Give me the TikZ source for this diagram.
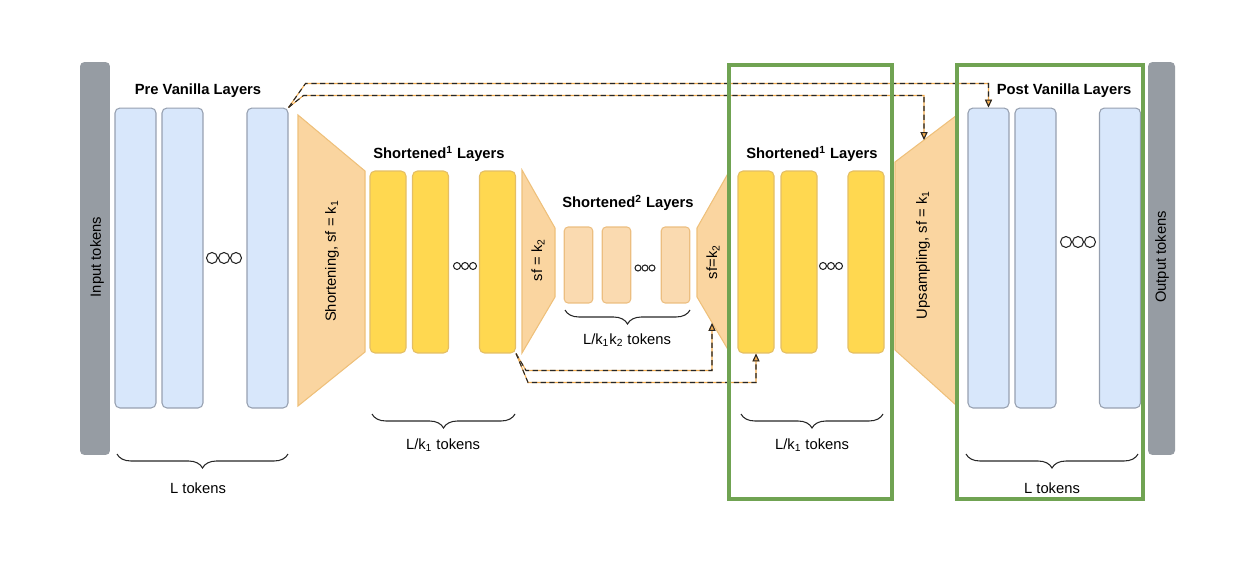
\documentclass[tikz,border=0pt]{standalone}
\usepackage{fontspec}
\setmainfont{Liberation Sans}
\usetikzlibrary{arrows.meta,decorations.pathreplacing}

\definecolor{tokgray}{RGB}{150,156,163}
\definecolor{vanfill}{RGB}{216,231,251}
\definecolor{vandraw}{RGB}{150,160,176}
\definecolor{onefill}{RGB}{255,216,80}
\definecolor{onedraw}{RGB}{228,190,100}
\definecolor{twofill}{RGB}{250,218,176}
\definecolor{twodraw}{RGB}{236,190,128}
\definecolor{sqfill}{RGB}{250,213,160}
\definecolor{sqdraw}{RGB}{238,192,122}
\definecolor{boxgreen}{RGB}{112,163,82}
\definecolor{dashorange}{RGB}{242,172,80}

\tikzset{
    tokenbar/.style={fill=tokgray, rounded corners=2.5pt, minimum height=7.86cm, inner sep=0pt},
    vanilla/.style={draw=vandraw, fill=vanfill, line width=0.6pt, rounded corners=2.8pt,
        minimum width=0.82cm, minimum height=6cm, inner sep=0pt},
    shortone/.style={draw=onedraw, fill=onefill, line width=0.6pt, rounded corners=2.8pt,
        minimum width=0.72cm, minimum height=3.64cm, inner sep=0pt},
    shorttwo/.style={draw=twodraw, fill=twofill, line width=0.6pt, rounded corners=2.2pt,
        minimum width=0.57cm, minimum height=1.52cm, inner sep=0pt},
    squeeze/.style={draw=sqdraw, fill=sqfill, line width=0.6pt},
    layertitle/.style={font=\fontsize{8.4}{10}\selectfont\bfseries},
    tokbrace/.style={decorate, decoration={brace, mirror, amplitude=0.28cm}, draw=black!85, line width=0.6pt},
    skipline/.style={draw=black!85, line width=0.6pt, dash pattern=on 3pt off 2pt,
        preaction={draw=dashorange, line width=0.6pt, solid},
        -{Triangle[length=4.5pt, width=4pt, fill=dashorange]}},
    focus/.style={draw=boxgreen, line width=2.8pt},
    dots/.style={draw=black!85, line width=0.6pt}
}

\begin{document}
\begin{tikzpicture}[x=0.02cm, y=-0.02cm, font=\fontsize{8.4}{10}\selectfont]
    \useasboundingbox (0,0) rectangle (1260,564);

    % Token bars
    \node[tokenbar, minimum width=0.6cm] (inbar) at (95,258.5) {};
    \node[tokenbar, minimum width=0.54cm] (outbar) at (1161.5,258.5) {};
    \node[rotate=90] (inlbl) at (97,257) {Input tokens};
    \node[rotate=90] (outlbl) at (1162,257) {Output tokens};

    % Pre vanilla layers
    \node[layertitle] (pretitle) at (198,91) {Pre Vanilla Layers};
    \foreach \n/\x in {1/135.5, 2/182.5, 3/267.5} {
        \node[vanilla] (pre\n) at (\x,258) {};
    }
    \foreach \d in {-12,0,12} {
        \draw[dots] (224+\d,258) circle (0.11cm);
    }

    % Shortening
    \draw[squeeze] (298,115) -- (365,171) -- (365,352) -- (298,406) -- cycle;
    \node[rotate=90] (shortlbl) at (332,261) {Shortening, sf = k\textsubscript{1}};

    % Shortened^1 layers (left)
    \node[layertitle] (onetitle) at (439,154) {Shortened\textsuperscript{1} Layers};
    \foreach \n/\x in {1/388, 2/430.5, 3/497.5} {
        \node[shortone] (sone\n) at (\x,262) {};
    }
    \foreach \d in {-8,0,8} {
        \draw[dots] (465+\d,266) circle (0.07cm);
    }

    % sf = k2 down
    \draw[squeeze] (522,170) -- (555,228) -- (555,297) -- (522,353) -- cycle;
    \node[rotate=90] (downlbl) at (538,260) {sf = k\textsubscript{2}};

    % Shortened^2 layers
    \node[layertitle] (twotitle) at (628,203) {Shortened\textsuperscript{2} Layers};
    \foreach \n/\x in {1/578.5, 2/616.5, 3/675.5} {
        \node[shorttwo] (stwo\n) at (\x,265) {};
    }
    \foreach \d in {-7,0,7} {
        \draw[dots] (645+\d,268) circle (0.06cm);
    }

    % sf = k2 up
    \draw[squeeze] (697,228) -- (730,170) -- (730,353) -- (697,297) -- cycle;
    \node[rotate=90] (uplbl) at (713,262) {sf=k\textsubscript{2}};
    \coordinate (dnin) at (712,323);

    % Shortened^1 layers (right)
    \node[layertitle] (onertitle) at (812,154) {Shortened\textsuperscript{1} Layers};
    \foreach \n/\x in {1/756, 2/799, 3/866} {
        \node[shortone] (sonr\n) at (\x,262) {};
    }
    \foreach \d in {-8,0,8} {
        \draw[dots] (831+\d,266) circle (0.07cm);
    }

    % Upsampling
    \draw[squeeze] (895,162) -- (957,115) -- (957,406) -- (895,350) -- cycle;
    \node[rotate=90] (upsmplbl) at (923,255) {Upsampling, sf = k\textsubscript{1}};
    \coordinate (upin) at (924,140);

    % Post vanilla layers
    \node[layertitle] (posttitle) at (1064,91) {Post Vanilla Layers};
    \foreach \n/\x in {1/988.5, 2/1035.5, 3/1120} {
        \node[vanilla] (post\n) at (\x,258) {};
    }
    \foreach \d in {-12,0,12} {
        \draw[dots] (1078+\d,242) circle (0.11cm);
    }

    % Skip connections
    \draw[skipline] (pre3.north east) -- ++(17,-24) -| (post1.north);
    \draw[skipline] (pre3.north east) -- ++(15,-12) -| (upin);
    \draw[skipline] (sone3.south east) -- ++(10,17) -| (dnin);
    \draw[skipline] (sone3.south east) -- ++(12,29) -| (sonr1.south);

    % Braces
    \draw[tokbrace] (117,454) -- (288,454);
    \node (ltok) at (198,488) {L tokens};
    \draw[tokbrace] (372,414) -- (515,414);
    \node (k1tok) at (443,445) {L/k\textsubscript{1} tokens};
    \draw[tokbrace] (565,310) -- (690,310);
    \node (k2tok) at (627,340) {L/k\textsubscript{1}k\textsubscript{2} tokens};
    \draw[tokbrace] (741,414) -- (883,414);
    \node (k1rtok) at (812,445) {L/k\textsubscript{1} tokens};
    \draw[tokbrace] (966,454) -- (1138,454);
    \node (lrtok) at (1052,488) {L tokens};

    % Highlight boxes
    \draw[focus] (729,65) rectangle (892,499);
    \draw[focus] (957,65) rectangle (1143,499);
\end{tikzpicture}
\end{document}
